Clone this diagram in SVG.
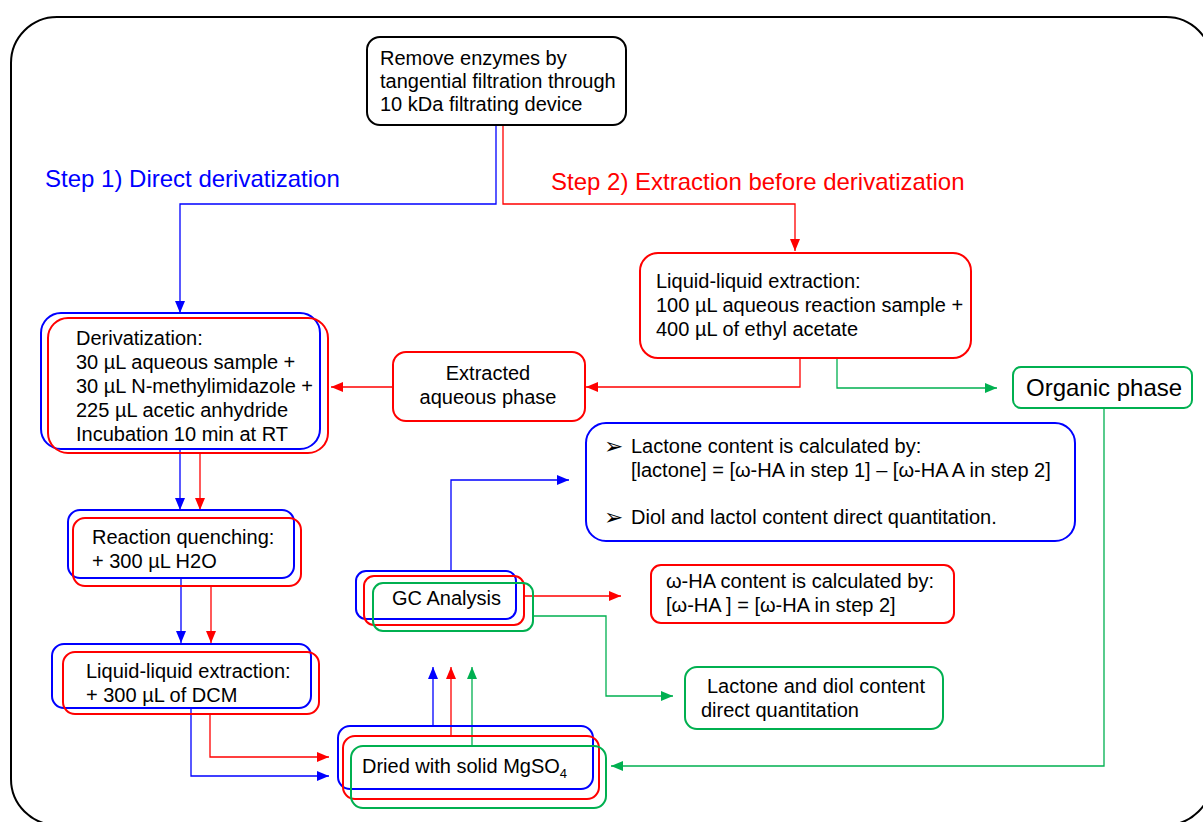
<svg xmlns="http://www.w3.org/2000/svg" width="1203" height="822" viewBox="0 0 1203 822">
<style>
text{font-family:"Liberation Sans",Arial,sans-serif;font-size:20px;fill:#000}
.lbl{font-size:24px}
.box{fill:none;stroke-width:2}
.k{stroke:#000}.b{stroke:#0000FF}.r{stroke:#FF0000}.g{stroke:#00B050}
.ln{fill:none;stroke-width:1.3}
.bul{font-family:"DejaVu Sans",sans-serif;font-size:23px}
</style>
<defs>
<marker id="ab" viewBox="0 0 12 10" refX="12" refY="5" markerWidth="12" markerHeight="10" markerUnits="userSpaceOnUse" orient="auto"><path d="M0,0L12,5L0,10z" fill="#0000FF"/></marker>
<marker id="ar" viewBox="0 0 12 10" refX="12" refY="5" markerWidth="12" markerHeight="10" markerUnits="userSpaceOnUse" orient="auto"><path d="M0,0L12,5L0,10z" fill="#FF0000"/></marker>
<marker id="ag" viewBox="0 0 12 10" refX="12" refY="5" markerWidth="12" markerHeight="10" markerUnits="userSpaceOnUse" orient="auto"><path d="M0,0L12,5L0,10z" fill="#00B050"/></marker>
</defs>
<rect x="11" y="17" width="1201" height="808" rx="46" fill="none" stroke="#000" stroke-width="2"/>
<text class="lbl" x="45" y="187" style="fill:#0000FF">Step 1) Direct derivatization</text>
<text class="lbl" x="551" y="190" style="fill:#FF0000">Step 2) Extraction before derivatization</text>
<g id="connectors">
<path class="ln b" d="M496,126V204H180V313" marker-end="url(#ab)"/>
<path class="ln r" d="M503,126V204H795V251" marker-end="url(#ar)"/>
<path class="ln r" d="M800,358V387H586" marker-end="url(#ar)"/>
<path class="ln g" d="M837,358V388H997" marker-end="url(#ag)"/>
<path class="ln r" d="M393,387H331" marker-end="url(#ar)"/>
<path class="ln b" d="M180,449V510" marker-end="url(#ab)"/>
<path class="ln r" d="M200,453V510" marker-end="url(#ar)"/>
<path class="ln b" d="M181,578V643" marker-end="url(#ab)"/>
<path class="ln r" d="M211,586V643" marker-end="url(#ar)"/>
<path class="ln r" d="M210,714V757H329" marker-end="url(#ar)"/>
<path class="ln b" d="M191,708V776H329" marker-end="url(#ab)"/>
<path class="ln b" d="M433,726V667" marker-end="url(#ab)"/>
<path class="ln r" d="M451,736V667" marker-end="url(#ar)"/>
<path class="ln g" d="M472,746V667" marker-end="url(#ag)"/>
<path class="ln b" d="M451,571V480H569" marker-end="url(#ab)"/>
<path class="ln r" d="M524,596H621" marker-end="url(#ar)"/>
<path class="ln g" d="M533,616H606V696H673" marker-end="url(#ag)"/>
<path class="ln g" d="M1104,408V766H611" marker-end="url(#ag)"/>
</g>
<g id="remove">
<rect class="box k" x="367" y="37" width="259" height="88" rx="13"/>
<text x="380" y="65">Remove enzymes by</text>
<text x="380" y="88">tangential filtration through</text>
<text x="380" y="111">10 kDa filtrating device</text>
</g>
<g id="lle-right">
<rect class="box r" x="640" y="253" width="331" height="105" rx="18"/>
<text x="656" y="288">Liquid-liquid extraction:</text>
<text x="656" y="312">100 µL aqueous reaction sample +</text>
<text x="656" y="336">400 µL of ethyl acetate</text>
</g>
<g id="organic">
<rect class="box g" x="1013" y="367" width="179" height="41" rx="8"/>
<text class="lbl" x="1026" y="396">Organic phase</text>
</g>
<g id="extracted">
<rect class="box r" x="393" y="352" width="192" height="69" rx="13"/>
<text x="488" y="380" text-anchor="middle">Extracted</text>
<text x="488" y="404" text-anchor="middle">aqueous phase</text>
</g>
<g id="derivatization">
<rect class="box b" x="41" y="313" width="279" height="136" rx="20"/>
<rect class="box r" x="48" y="318" width="280" height="135" rx="20"/>
<text x="76" y="345">Derivatization:</text>
<text x="76" y="369">30 µL aqueous sample +</text>
<text x="76" y="393">30 µL N-methylimidazole +</text>
<text x="76" y="417">225 µL acetic anhydride</text>
<text x="76" y="441">Incubation 10 min at RT</text>
</g>
<g id="quenching">
<rect class="box b" x="68" y="510" width="226" height="68" rx="12"/>
<rect class="box r" x="73" y="518" width="228" height="68" rx="12"/>
<text x="92" y="544">Reaction quenching:</text>
<text x="92" y="568">+ 300 µL H2O</text>
</g>
<g id="lle-left">
<rect class="box b" x="52" y="644" width="259" height="64" rx="12"/>
<rect class="box r" x="63" y="652" width="256" height="62" rx="12"/>
<text x="86" y="678">Liquid-liquid extraction:</text>
<text x="86" y="702">+ 300 µL of DCM</text>
</g>
<g id="dried">
<rect class="box b" x="338" y="726" width="255" height="63" rx="12"/>
<rect class="box r" x="343" y="736" width="256" height="63" rx="12"/>
<rect class="box g" x="351" y="746" width="255" height="62" rx="12"/>
<text x="362" y="773">Dried with solid MgSO<tspan font-size="13" dy="5">4</tspan></text>
</g>
<g id="gc">
<rect class="box b" x="356" y="571" width="160" height="48" rx="10"/>
<rect class="box r" x="364" y="576" width="160" height="49" rx="10"/>
<rect class="box g" x="373" y="583" width="160" height="48" rx="10"/>
<text x="392" y="605">GC Analysis</text>
</g>
<g id="result-blue">
<rect class="box b" x="586" y="423" width="489" height="118" rx="20"/>
<text class="bul" x="604" y="454">➢</text>
<text x="631" y="453">Lactone content is calculated by:</text>
<text x="631" y="477">[lactone] = [ω-HA in step 1] – [ω-HA A in step 2]</text>
<text class="bul" x="604" y="525">➢</text>
<text x="631" y="524">Diol and lactol content direct quantitation.</text>
</g>
<g id="result-red">
<rect class="box r" x="651" y="565" width="303" height="58" rx="10"/>
<text x="666" y="588">ω-HA content is calculated by:</text>
<text x="666" y="612">[ω-HA ] = [ω-HA in step 2]</text>
</g>
<g id="result-green">
<rect class="box g" x="685" y="667" width="258" height="62" rx="12"/>
<text x="707" y="693">Lactone and diol content</text>
<text x="701" y="717">direct quantitation</text>
</g>
</svg>
